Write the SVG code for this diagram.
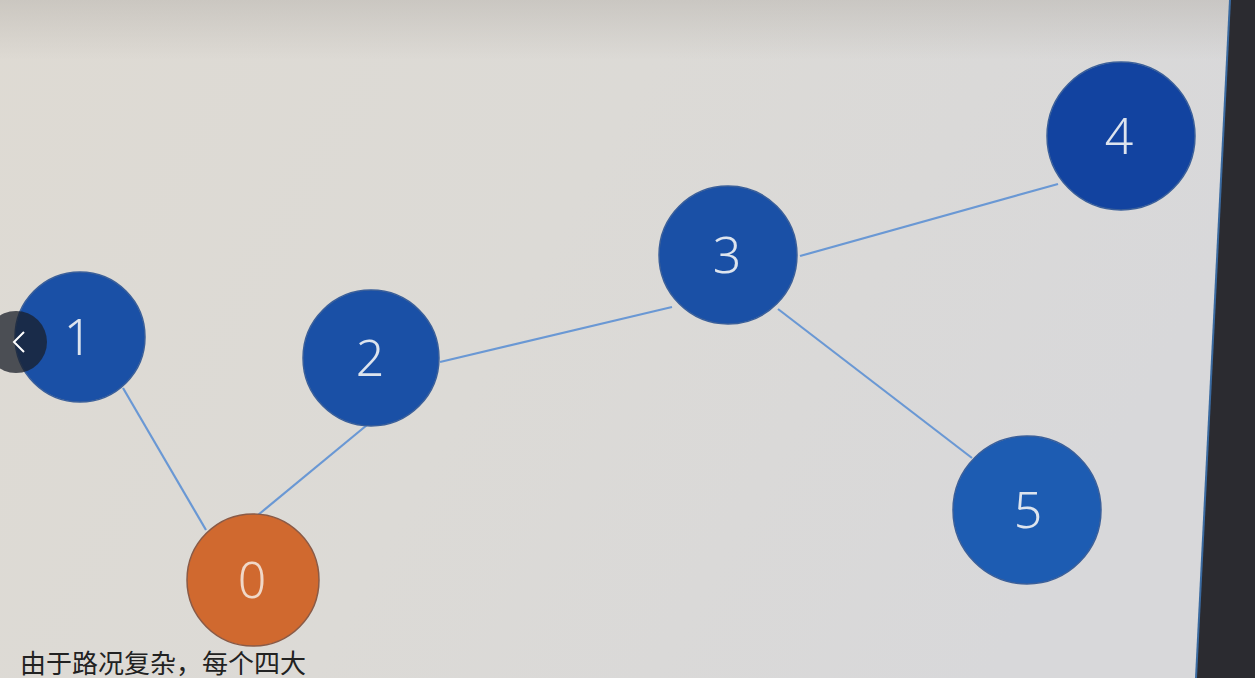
<svg xmlns="http://www.w3.org/2000/svg" width="1255" height="678" viewBox="0 0 1255 678">
<defs>
<linearGradient id="bg" x1="0" y1="0" x2="1" y2="0.3">
<stop offset="0" stop-color="#dedad3"/>
<stop offset="0.5" stop-color="#dcdad6"/>
<stop offset="1" stop-color="#d8d8da"/>
</linearGradient>
<linearGradient id="topshade" x1="0" y1="0" x2="0" y2="1">
<stop offset="0" stop-color="#b8b4ae" stop-opacity="0.5"/>
<stop offset="1" stop-color="#b8b4ae" stop-opacity="0"/>
</linearGradient>
<style>
.edge{stroke:#6a98d4;stroke-width:2.2;fill:none}
.blue{fill:#1a50a6;stroke:#3a5f9a;stroke-width:1.5}
.orange{fill:#d0692f;stroke:#8a5a46;stroke-width:1.5}
.lbl{font-family:"Noto Sans","DejaVu Sans",sans-serif;font-size:50px;font-weight:300;fill:#dde4ee;text-anchor:middle}
.cap{font-family:"Noto Sans CJK SC",sans-serif;font-size:26px;fill:#222}
</style>
</defs>
<rect width="1255" height="678" fill="url(#bg)"/>
<rect width="1255" height="60" fill="url(#topshade)"/>
<g id="connectors">
<line class="edge" x1="123" y1="388" x2="206" y2="530"/>
<line class="edge" x1="367" y1="425" x2="258" y2="515"/>
<line class="edge" x1="440" y1="362" x2="672" y2="307"/>
<line class="edge" x1="800" y1="256" x2="1058" y2="184"/>
<line class="edge" x1="778" y1="309" x2="972" y2="458"/>
</g>
<g id="node-1"><circle class="blue" cx="80" cy="337" r="65"/><text class="lbl" x="78" y="355">1</text></g>
<g id="node-2"><circle class="blue" cx="371" cy="358" r="68"/><text class="lbl" x="370" y="376">2</text></g>
<g id="node-3"><circle class="blue" cx="728" cy="255" r="69"/><text class="lbl" x="727" y="273">3</text></g>
<g id="node-4"><circle class="blue" cx="1121" cy="136" r="74" style="fill:#1243a0"/><text class="lbl" x="1119" y="154">4</text></g>
<g id="node-5"><circle class="blue" cx="1027" cy="510" r="74" style="fill:#1d5cb2"/><text class="lbl" x="1028" y="528">5</text></g>
<g id="node-0"><circle class="orange" cx="253" cy="580" r="66"/><text class="lbl" x="252" y="598" style="fill:#f0d8c8">0</text></g>
<text class="cap" x="20" y="673">由于路况复杂，每个四大</text>
<g id="back-button">
<circle cx="16" cy="342" r="31" fill="#1a1f2a" fill-opacity="0.75"/>
<polyline points="24,332 14,342 24,352" fill="none" stroke="#ffffff" stroke-width="2"/>
</g>
<polygon points="1230,0 1255,0 1255,678 1196,678" fill="#2b2b30"/>
<line x1="1230" y1="0" x2="1196" y2="678" stroke="#3a6aa0" stroke-width="2"/>
</svg>
